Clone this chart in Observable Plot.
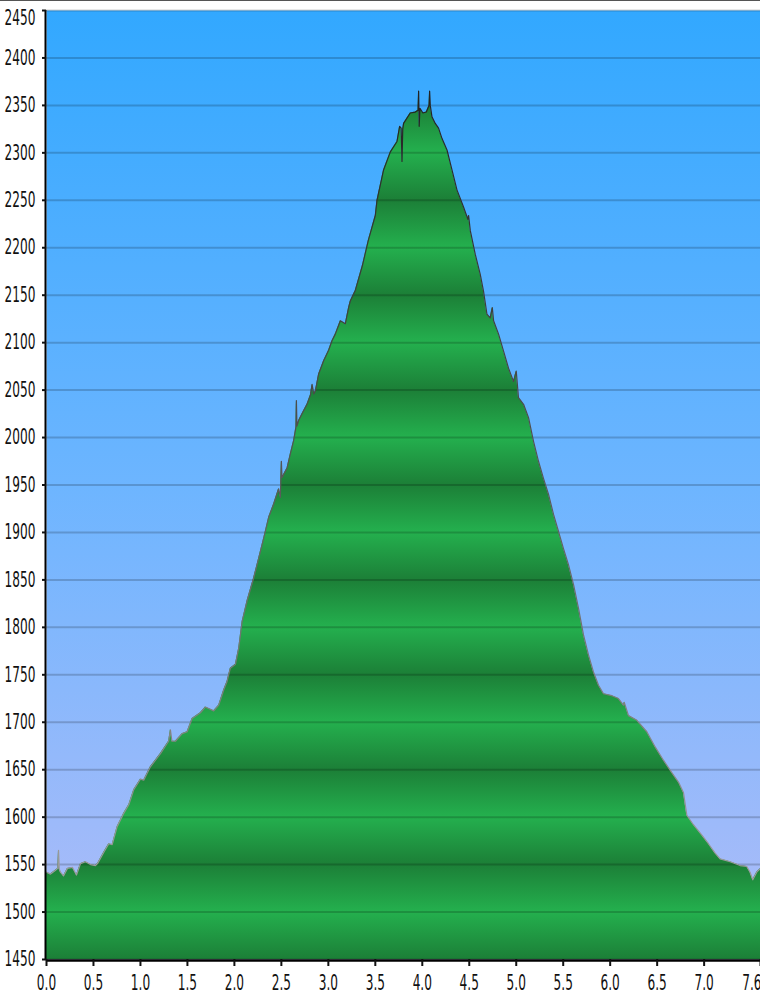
<!DOCTYPE html>
<html>
<head>
<meta charset="utf-8">
<script src="https://cdn.jsdelivr.net/npm/d3@7"></script>
<script src="https://cdn.jsdelivr.net/npm/@observablehq/plot@0.6"></script>
<style>
  html, body { margin: 0; padding: 0; background: #fff; }
  #topline { position: absolute; top: 0; left: 0; width: 760px; height: 1px; background: #555; }
</style>
</head>
<body>
<div id="topline"></div>
<div id="chart"></div>
<script>
// distance (x units) and elevation (m)
const distance = [
  0.000, 0.043, 0.096, 0.120, 0.128, 0.136, 0.149, 0.181, 0.223, 0.277, 0.319, 0.362, 0.415, 0.468, 0.521, 0.543,
  0.610, 0.663, 0.699, 0.752, 0.822, 0.876, 0.929, 1.000, 1.035, 1.106, 1.213, 1.300, 1.319, 1.335, 1.372, 1.444,
  1.497, 1.550, 1.638, 1.691, 1.780, 1.833, 1.886, 1.922, 1.957, 2.011, 2.046, 2.082, 2.135, 2.205, 2.259, 2.312,
  2.365, 2.418, 2.471, 2.489, 2.500, 2.507, 2.561, 2.596, 2.631, 2.655, 2.660, 2.666, 2.684, 2.720, 2.773, 2.810,
  2.827, 2.845, 2.862, 2.897, 2.950, 3.003, 3.039, 3.074, 3.128, 3.181, 3.216, 3.234, 3.287, 3.362, 3.426, 3.500,
  3.518, 3.588, 3.660, 3.731, 3.759, 3.775, 3.784, 3.792, 3.801, 3.872, 3.926, 3.955, 3.961, 3.967, 3.975, 4.007,
  4.043, 4.072, 4.078, 4.085, 4.103, 4.138, 4.173, 4.210, 4.263, 4.316, 4.369, 4.439, 4.485, 4.493, 4.511, 4.564,
  4.617, 4.652, 4.688, 4.723, 4.745, 4.759, 4.812, 4.865, 4.918, 4.971, 5.000, 5.024, 5.078, 5.131, 5.184, 5.237,
  5.290, 5.344, 5.397, 5.450, 5.503, 5.556, 5.610, 5.663, 5.716, 5.769, 5.822, 5.876, 5.929, 6.018, 6.088, 6.141,
  6.150, 6.195, 6.284, 6.390, 6.479, 6.567, 6.656, 6.727, 6.780, 6.816, 6.886, 6.976, 7.046, 7.117, 7.170, 7.277,
  7.383, 7.454, 7.489, 7.518, 7.560, 7.600
];
const elevation = [
  1542, 1540, 1544, 1546, 1565, 1545, 1542, 1538, 1546, 1547, 1539, 1551, 1553, 1550, 1549, 1551,
  1563, 1572, 1571, 1590, 1604, 1613, 1629, 1640, 1639, 1653, 1667, 1680, 1692, 1680, 1680, 1688,
  1690, 1704, 1710, 1716, 1712, 1718, 1734, 1743, 1757, 1761, 1778, 1806, 1828, 1852, 1873, 1894,
  1916, 1930, 1946, 1937, 1975, 1958, 1968, 1983, 1997, 2011, 2039, 2012, 2018, 2025, 2035, 2045,
  2056, 2046, 2049, 2067, 2081, 2092, 2102, 2109, 2123, 2120, 2137, 2144, 2155, 2181, 2208, 2234,
  2250, 2282, 2301, 2312, 2328, 2326, 2291, 2325, 2331, 2342, 2343, 2345, 2365, 2328, 2347, 2342,
  2343, 2350, 2365, 2350, 2338, 2331, 2326, 2315, 2303, 2282, 2261, 2243, 2230, 2234, 2218, 2193,
  2172, 2154, 2130, 2126, 2137, 2123, 2109, 2091, 2073, 2059, 2070, 2042, 2035, 2021, 1996, 1975,
  1957, 1940, 1919, 1901, 1883, 1866, 1845, 1820, 1792, 1771, 1753, 1739, 1730, 1728, 1725, 1718,
  1721, 1707, 1702, 1690, 1674, 1660, 1647, 1637, 1626, 1602, 1592, 1581, 1572, 1562, 1556, 1553,
  1549, 1548, 1542, 1534, 1542, 1546
];
const xTicks = [0, 0.5, 1, 1.5, 2, 2.5, 3, 3.5, 4, 4.5, 5, 5.5, 6, 6.5, 7, 7.6];
const yTicks = [1450, 1500, 1550, 1600, 1650, 1700, 1750, 1800, 1850, 1900, 1950, 2000, 2050, 2100, 2150, 2200, 2250, 2300, 2350, 2400, 2450];

const profile = distance.map((d, i) => ({d, e: elevation[i]}));

const chart = Plot.plot({
  width: 760,
  height: 1000,
  marginLeft: 46,
  marginRight: 0,
  marginTop: 10,
  marginBottom: 41,
  x: {domain: [0, 7.6]},
  y: {domain: [1450, 2450]},
  style: {
    fontFamily: "'DejaVu Sans Condensed', 'DejaVu Sans', sans-serif",
    fontSize: "13.5px",
    color: "#111",
    background: "transparent"
  },
  marks: [
    Plot.frame({fill: "url(#sky)", stroke: "none"}),
    Plot.areaY(profile, {x: "d", y1: 1450, y2: "e", fill: "url(#bands)"}),
    Plot.ruleY(yTicks, {stroke: "#000", strokeOpacity: 0.18, strokeWidth: 2}),
    Plot.line(profile, {x: "d", y: "e", stroke: "url(#outline)", strokeWidth: 1.2}),
    Plot.ruleX([0], {stroke: "#000", strokeWidth: 2, dx: -1}),
    Plot.ruleY([1450], {stroke: "#000", strokeWidth: 2.5, dy: 1}),
    Plot.axisY({ticks: yTicks, tickFormat: d => String(d), tickSize: 4, tickPadding: 7, strokeWidth: 2, label: null}),
    Plot.axisX({ticks: xTicks, tickFormat: d3.format(".1f"), tickSize: 7, tickPadding: 9, strokeWidth: 2, label: null})
  ]
});

// gradients
const ys = chart.scale("y");
const ns = "http://www.w3.org/2000/svg";
const defs = document.createElementNS(ns, "defs");
function grad(id, attrs, stops) {
  const g = document.createElementNS(ns, "linearGradient");
  g.setAttribute("id", id);
  for (const k in attrs) g.setAttribute(k, attrs[k]);
  for (const [o, c] of stops) {
    const s = document.createElementNS(ns, "stop");
    s.setAttribute("offset", o);
    s.setAttribute("stop-color", c);
    g.appendChild(s);
  }
  defs.appendChild(g);
}
grad("sky", {x1: 0, y1: 0, x2: 0, y2: 1}, [[0, "#32a8ff"], [0.5, "#6db5ff"], [1, "#b0bcf8"]]);
grad("bands", {
  gradientUnits: "userSpaceOnUse", spreadMethod: "repeat",
  x1: 0, x2: 0, y1: ys.apply(1550), y2: ys.apply(1450)
}, [[0, "#1c7f37"], [0.5, "#24b04e"], [1, "#1c7f37"]]);
grad("outline", {
  gradientUnits: "userSpaceOnUse",
  x1: 0, x2: 0, y1: ys.apply(2400), y2: ys.apply(1550)
}, [[0, "#1e1e1e"], [0.45, "#4e4e4e"], [1, "#9a9a9a"]]);
chart.insertBefore(defs, chart.firstChild);

// stretch the tick labels vertically like the reference
chart.querySelectorAll('g[aria-label$="tick label"] text').forEach(t => {
  let tr = t.getAttribute("transform");
  if (!tr) {
    const x = +(t.getAttribute("x") || 0), y = +(t.getAttribute("y") || 0);
    t.removeAttribute("x"); t.removeAttribute("y");
    tr = `translate(${x},${y})`;
  }
  const m = /translate\(([^,\s]+)[,\s]+([^)]+)\)/.exec(tr);
  let x = m ? +m[1] : 0, y = m ? +m[2] : 0;
  const label = t.textContent;
  if (label === "2450") y += 8;
  if (label === "7.6") { t.setAttribute("text-anchor", "end"); x = 761; }
  t.setAttribute("transform", `translate(${x},${y}) scale(1,1.55)`);
});

document.getElementById("chart").appendChild(chart);
</script>
</body>
</html>
